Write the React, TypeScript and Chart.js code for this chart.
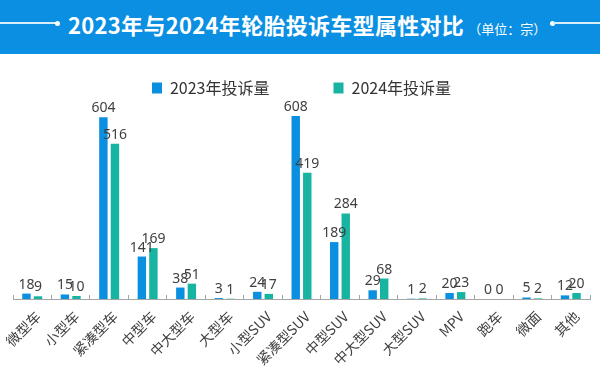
import React, { useEffect, useRef } from "react";
import { Chart, registerables } from "chart.js";

Chart.register(...registerables);

const TITLE = "2023年与2024年轮胎投诉车型属性对比";
const UNIT = "（单位：宗）";
const categories = ["微型车", "小型车", "紧凑型车", "中型车", "中大型车", "大型车", "小型SUV", "紧凑型SUV", "中型SUV", "中大型SUV", "大型SUV", "MPV", "跑车", "微面", "其他"];
const series2023 = [18, 15, 604, 141, 38, 3, 24, 608, 189, 29, 1, 20, 0, 5, 12];
const series2024 = [9, 10, 516, 169, 51, 1, 17, 419, 284, 68, 2, 23, 0, 2, 20];
const seriesNames = ["2023年投诉量", "2024年投诉量"];
const colors = ["#0b8fe0", "#18b4a2"];

const valueLabels = {
  id: "valueLabels",
  afterDatasetsDraw(chart: any) {
    const ctx = chart.ctx;
    ctx.save();
    ctx.font = "14px 'Noto Sans', 'Noto Sans CJK SC', sans-serif";
    ctx.fillStyle = "#404040";
    ctx.textAlign = "center";
    ctx.textBaseline = "alphabetic";
    chart.data.datasets.forEach((ds: any, di: number) => {
      const meta = chart.getDatasetMeta(di);
      meta.data.forEach((el: any, i: number) => {
        ctx.fillText(String(ds.data[i]), el.x, el.y - 5);
      });
    });
    ctx.restore();
  },
};

export default function App() {
  const ref = useRef<HTMLCanvasElement>(null);
  useEffect(() => {
    if (!ref.current) return;
    const chart = new Chart(ref.current, {
      type: "bar",
      data: {
        labels: categories,
        datasets: [
          { label: seriesNames[0], data: series2023, backgroundColor: colors[0], categoryPercentage: 0.6, barPercentage: 0.73 },
          { label: seriesNames[1], data: series2024, backgroundColor: colors[1], categoryPercentage: 0.6, barPercentage: 0.73 },
        ],
      },
      options: {
        animation: false,
        responsive: true,
        maintainAspectRatio: false,
        layout: { padding: { left: 13, right: 10, top: 10, bottom: 0 } },
        plugins: {
          tooltip: { enabled: false },
          legend: {
            position: "top",
            labels: {
              boxWidth: 10,
              boxHeight: 11,
              padding: 16,
              color: "#333333",
              font: { size: 16, family: "'Noto Sans CJK SC', sans-serif" },
              generateLabels: (c: any) =>
                c.data.datasets.map((ds: any, i: number) => ({
                  text: i === 0 ? ds.label + "\u3000\u3000\u3000" : ds.label,
                  fillStyle: ds.backgroundColor,
                  strokeStyle: ds.backgroundColor,
                  lineWidth: 0,
                  hidden: false,
                  datasetIndex: i,
                  fontColor: "#333333",
                })),
            },
          },
        },
        scales: {
          x: {
            grid: { display: true, drawOnChartArea: false, drawTicks: true, tickLength: -4, color: "#a6a6a6" },
            border: { display: true, color: "#a6a6a6" },
            ticks: {
              autoSkip: false,
              maxRotation: 45,
              minRotation: 45,
              padding: 13,
              labelOffset: 6,
              color: "#404040",
              font: { size: 14, family: "'Noto Sans CJK SC', sans-serif" },
            },
            afterFit: (s: any) => {
              s.height = 67;
              s.paddingLeft = 0;
              s.paddingRight = 0;
            },
          },
          y: { display: false, min: 0, max: 641 },
        },
      },
      plugins: [valueLabels],
    });
    return () => chart.destroy();
  }, []);

  return (
    <div style={{ position: "absolute", left: 0, top: 0, width: 600, height: 366, background: "#ffffff", overflow: "hidden" }}>
      <div style={{ position: "relative", width: 600, height: 54, background: "#0b8fe2" }}>
        <div style={{ position: "absolute", left: 0, top: 22, width: 56, height: 1.5, background: "#d8eefc" }} />
        <div style={{ position: "absolute", left: 55, top: 20.5, width: 5, height: 5, borderRadius: "50%", background: "#ffffff" }} />
        <div
          style={{
            position: "absolute",
            left: 68,
            top: 0,
            height: 48,
            lineHeight: "48px",
            whiteSpace: "nowrap",
            color: "#ffffff",
            fontFamily: "'Noto Sans CJK SC', sans-serif",
          }}
        >
          <span style={{ fontSize: 22, fontWeight: 700, letterSpacing: 0.3 }}>{TITLE}</span>
          <span style={{ fontSize: 13, marginLeft: 4 }}>{UNIT}</span>
        </div>
        <div style={{ position: "absolute", left: 550, top: 20.5, width: 5, height: 5, borderRadius: "50%", background: "#ffffff" }} />
        <div style={{ position: "absolute", left: 553, top: 22, width: 47, height: 1.5, background: "#d8eefc" }} />
      </div>
      <div style={{ position: "relative", width: 600, height: 312 }}>
        <canvas ref={ref} />
      </div>
    </div>
  );
}
